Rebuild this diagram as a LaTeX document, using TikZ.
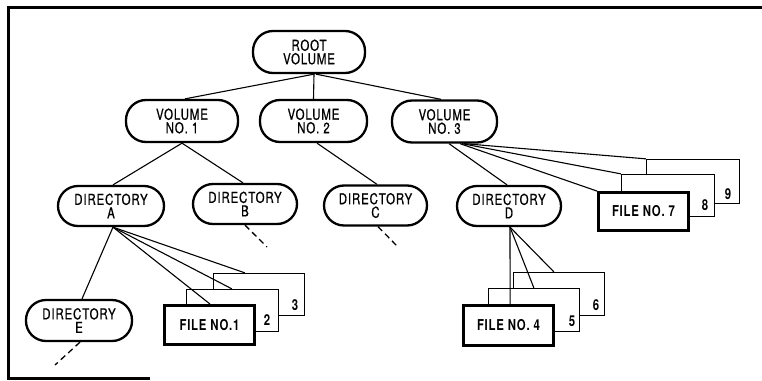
\documentclass[tikz,border=0pt]{standalone}
\usepackage{fontspec}
\newfontfamily\lab{TeX Gyre Heros}[FakeStretch=0.76,LetterSpace=6,FakeBold=0.8]
\newfontfamily\labb{TeX Gyre Heros Bold}[FakeStretch=0.76,LetterSpace=5]
\begin{document}
\begin{tikzpicture}[x=1pt,y=-1pt,
  oval/.style={draw,line width=2.3pt,rounded corners=20pt,align=center,
    inner sep=0pt,font=\lab\fontsize{15}{13.5}\selectfont},
  backbox/.style={draw,fill=white,line width=1.3pt,inner sep=0pt},
  frontbox/.style={draw,fill=white,line width=2.8pt,inner sep=0pt,
    font=\labb\fontsize{15}{13}\selectfont},
  num/.style={inner sep=0pt,font=\labb\fontsize{15}{13}\selectfont},
  conn/.style={line width=1.1pt},
  dashline/.style={line width=1.3pt,dash pattern=on 6pt off 4pt},
  frame/.style={line width=3pt}]
\useasboundingbox (0,0) rectangle (762,380);
% frame
\coordinate (fb) at (150,378);
\coordinate (fbl) at (8,378);
\coordinate (ftl) at (8,7);
\coordinate (ftr) at (762,7);
\draw[frame] (fb) -- (fbl) -- (ftl) -- (ftr);
% ovals
\node[oval,minimum width=112pt,minimum height=42pt] (root) at (309,52) {ROOT\\VOLUME};
\node[oval,minimum width=112pt,minimum height=42pt] (v1) at (182,121) {VOLUME\\NO. 1};
\node[oval,minimum width=107pt,minimum height=42pt] (v2) at (313.5,121) {VOLUME\\NO. 2};
\node[oval,minimum width=105pt,minimum height=42pt] (v3) at (444.5,121.5) {VOLUME\\NO. 3};
\node[oval,minimum width=106pt,minimum height=40pt] (dA) at (111,206) {DIRECTORY\\A};
\node[oval,minimum width=104pt,minimum height=40pt] (dB) at (245,204) {DIRECTORY\\B};
\node[oval,minimum width=103pt,minimum height=40pt] (dC) at (375.5,205.5) {DIRECTORY\\C};
\node[oval,minimum width=104pt,minimum height=40pt] (dD) at (509,206) {DIRECTORY\\D};
\node[oval,minimum width=106pt,minimum height=41pt] (dE) at (79,320.5) {DIRECTORY\\E};
% file stacks under A
\node[backbox,minimum width=91pt,minimum height=42pt] (f3) at (259,294.5) {};
\node[num] (n3) at (295,305) {3};
\node[backbox,minimum width=92pt,minimum height=42pt] (f2) at (232.5,310.5) {};
\node[num] (n2) at (267,320) {2};
\node[frontbox,minimum width=90pt,minimum height=39pt] (f1) at (209.5,325) {FILE NO.1};
% file stacks under D
\node[backbox,minimum width=91pt,minimum height=43pt] (f6) at (559,294) {};
\node[num] (n6) at (596,305) {6};
\node[backbox,minimum width=91pt,minimum height=43pt] (f5) at (534,310) {};
\node[num] (n5) at (572,321) {5};
\node[frontbox,minimum width=90pt,minimum height=40pt] (f4) at (508.5,325.5) {FILE NO. 4};
% file stacks under volume 3
\node[backbox,minimum width=93pt,minimum height=44pt] (f9) at (693,181.5) {};
\node[num] (n9) at (728,194) {9};
\node[backbox,minimum width=93pt,minimum height=42pt] (f8) at (668,195.5) {};
\node[num] (n8) at (705,205) {8};
\node[frontbox,minimum width=90pt,minimum height=38pt] (f7) at (643.5,211.5) {FILE NO. 7};
% connectors
\draw[conn] ([xshift=5pt]root.south) -- ([xshift=3pt]v1.north);
\draw[conn] ([xshift=5pt]root.south) -- (v2.north);
\draw[conn] ([xshift=7pt]root.south) -- ([xshift=-3.5pt]v3.north);
\draw[conn] (v1.south) -- ([xshift=2pt]dA.north);
\draw[conn] (v1.south) -- ([xshift=-2pt]dB.north);
\draw[conn] ([xshift=3.5pt]v2.south) -- ([xshift=1.5pt]dC.north);
\draw[conn] ([xshift=4.5pt]v3.south) -- ([xshift=-2pt]dD.north);
\draw[conn] ([xshift=19.5pt]v3.south) -- (f9.north west);
\draw[conn] ([xshift=17.5pt]v3.south) -- (f8.north west);
\draw[conn] ([xshift=15.5pt]v3.south) -- (f7.north west);
\draw[conn] ([xshift=2pt]dA.south) -- ([xshift=3pt]dE.north);
\draw[conn] ([xshift=2pt]dA.south) -- ([xshift=32pt]f3.north west);
\draw[conn] ([xshift=2pt]dA.south) -- ([xshift=46pt]f2.north west);
\draw[conn] ([xshift=2pt]dA.south) -- ([xshift=47pt]f1.north west);
\draw[conn] ([xshift=1pt]dD.south) -- ([xshift=41pt]f6.north west);
\draw[conn] ([xshift=1pt]dD.south) -- ([xshift=46pt]f5.north west);
\draw[conn] ([xshift=1pt]dD.south) -- ([xshift=48pt]f4.north west);
% dashed continuations
\coordinate (eB) at (267,247);
\coordinate (eC) at (398,247);
\coordinate (eE) at (55,365);
\draw[dashline] (dB.south) -- (eB);
\draw[dashline] ([xshift=2.5pt]dC.south) -- (eC);
\draw[dashline] ([xshift=1pt]dE.south) -- (eE);
\end{tikzpicture}
\end{document}
